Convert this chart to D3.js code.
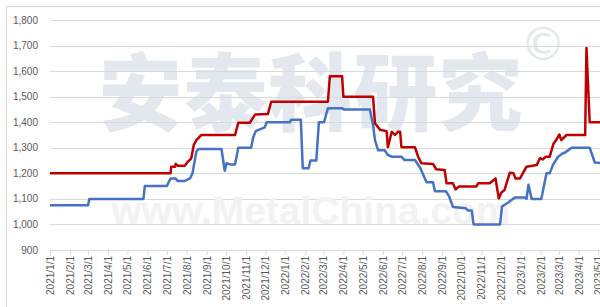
<!DOCTYPE html>
<html>
<head>
<meta charset="utf-8">
<script src="https://cdnjs.cloudflare.com/ajax/libs/d3/7.8.5/d3.min.js"></script>
<style>
  body { margin: 0; background: #fff; }
  svg { display: block; font-family: "Liberation Sans", Arial, sans-serif; }
</style>
</head>
<body>
<div id="chart"></div>
<script>
// red series: [date, price]
var redSeries = [
  ["2021/1/1",1200],["2021/7/7",1200],["2021/7/8",1226],["2021/7/14",1226],["2021/7/15",1237],
  ["2021/7/18",1230],["2021/7/29",1230],["2021/8/3",1246],["2021/8/8",1258],["2021/8/12",1311],
  ["2021/8/16",1330],["2021/8/21",1343],["2021/8/24",1350],["2021/10/15",1350],["2021/10/20",1398],
  ["2021/11/7",1398],["2021/11/10",1410],["2021/11/15",1430],["2021/12/5",1432],["2021/12/10",1480],
  ["2022/3/8",1480],["2022/3/11",1580],["2022/3/30",1580],["2022/4/1",1500],["2022/5/17",1500],
  ["2022/5/20",1396],["2022/5/28",1370],["2022/6/7",1365],["2022/6/9",1302],["2022/6/15",1363],
  ["2022/6/20",1350],["2022/6/25",1363],["2022/6/28",1363],["2022/6/30",1302],["2022/7/21",1302],
  ["2022/7/26",1265],["2022/7/31",1239],["2022/8/18",1237],["2022/8/23",1216],["2022/9/5",1213],
  ["2022/9/8",1161],["2022/9/18",1161],["2022/9/22",1137],["2022/9/27",1148],["2022/10/24",1148],
  ["2022/10/27",1161],["2022/11/14",1161],["2022/11/23",1180],["2022/11/28",1102],["2022/12/2",1125],
  ["2022/12/7",1135],["2022/12/15",1202],["2022/12/21",1200],["2022/12/24",1180],["2022/12/31",1180],
  ["2023/1/10",1226],["2023/1/26",1233],["2023/1/31",1260],["2023/2/4",1254],["2023/2/9",1265],
  ["2023/2/15",1265],["2023/2/21",1317],["2023/2/25",1330],["2023/3/2",1352],["2023/3/5",1330],
  ["2023/3/13",1350],["2023/4/11",1350],["2023/4/13",1690],["2023/4/18",1400],["2023/5/4",1400]
];

// blue series: [date, price]
var blueSeries = [
  ["2021/1/1",1075],["2021/3/1",1075],["2021/3/3",1100],["2021/5/26",1100],["2021/5/28",1150],
  ["2021/7/1",1150],["2021/7/7",1180],["2021/7/15",1180],["2021/7/18",1170],["2021/7/29",1170],
  ["2021/8/6",1180],["2021/8/10",1200],["2021/8/16",1285],["2021/8/19",1295],["2021/9/24",1295],
  ["2021/9/29",1210],["2021/10/2",1240],["2021/10/7",1235],["2021/10/15",1235],["2021/10/20",1300],
  ["2021/11/9",1300],["2021/11/12",1340],["2021/11/16",1365],["2021/11/30",1380],["2021/12/3",1400],
  ["2022/1/8",1400],["2022/1/10",1410],["2022/1/25",1410],["2022/1/28",1220],["2022/2/6",1220],
  ["2022/2/9",1250],["2022/2/18",1250],["2022/2/22",1400],["2022/3/2",1400],["2022/3/8",1455],
  ["2022/3/30",1455],["2022/4/2",1450],["2022/5/12",1450],["2022/5/17",1390],["2022/5/20",1330],
  ["2022/5/25",1290],["2022/6/4",1290],["2022/6/9",1272],["2022/6/15",1265],["2022/6/30",1265],
  ["2022/7/5",1252],["2022/7/21",1252],["2022/7/29",1222],["2022/8/8",1165],["2022/8/18",1165],
  ["2022/8/21",1130],["2022/9/7",1130],["2022/9/12",1110],["2022/9/18",1068],["2022/10/8",1063],
  ["2022/10/11",1055],["2022/10/17",1055],["2022/10/20",1000],["2022/11/30",1000],["2022/12/3",1070],
  ["2022/12/11",1083],["2022/12/23",1105],["2023/1/8",1105],["2023/1/10",1100],["2023/1/13",1155],
  ["2023/1/18",1100],["2023/2/2",1100],["2023/2/10",1200],["2023/2/15",1200],["2023/2/20",1233],
  ["2023/2/28",1265],["2023/3/8",1280],["2023/3/10",1280],["2023/3/21",1300],["2023/4/18",1300],
  ["2023/4/26",1242],["2023/5/4",1240]
];

var yTicks = [900, 1000, 1100, 1200, 1300, 1400, 1500, 1600, 1700, 1800];
var dateStart = "2021/1/1", dateEnd = "2023/5/4";

var width = 600, height = 307;
var margin = {top: 20, right: 0, bottom: 57, left: 50};

var parse = d3.timeParse("%Y/%m/%d");
var fmt = d3.timeFormat("%Y/%-m/%-d");

var svg = d3.select("#chart").append("svg")
    .attr("width", width).attr("height", height);

// outer chart frame (only left/top visible in the crop)
svg.append("rect")
    .attr("x", 6.5).attr("y", 6.5)
    .attr("width", 700).attr("height", 400)
    .attr("fill", "none").attr("stroke", "#d9d9d9");

var x = d3.scaleTime()
    .domain([parse(dateStart), parse(dateEnd)])
    .range([margin.left, width - margin.right]);

var y = d3.scaleLinear()
    .domain([900, 1800])
    .range([height - margin.bottom, margin.top]);

// watermark
svg.append("text")
    .attr("x", 311).attr("y", 124)
    .attr("text-anchor", "middle")
    .attr("font-family", "'Noto Sans CJK SC'")
    .attr("font-weight", 900)
    .attr("font-size", 84)
    .attr("letter-spacing", 1)
    .attr("fill", "#e3e8ee")
    .text("安泰科研究");
svg.append("text")
    .attr("x", 543).attr("y", 60)
    .attr("text-anchor", "middle")
    .attr("font-family", "'DejaVu Sans'")
    .attr("font-size", 46)
    .attr("fill", "#e3e8ee")
    .text("©");

// gridlines
svg.append("g").selectAll("line")
  .data(yTicks.filter(function(d){ return d > 900; }))
  .enter().append("line")
    .attr("x1", margin.left).attr("x2", width - margin.right)
    .attr("y1", function(d){ return Math.round(y(d)) + 0.5; })
    .attr("y2", function(d){ return Math.round(y(d)) + 0.5; })
    .attr("stroke", "#d9d9d9").attr("stroke-width", 1);

svg.append("text")
    .attr("x", 311).attr("y", 224)
    .attr("text-anchor", "middle")
    .attr("font-family", "'Liberation Sans', Arial")
    .attr("font-weight", "bold")
    .attr("font-size", 39)
    .attr("fill", "#f2f2f2")
    .text("www.MetalChina.com");

// y axis labels
svg.append("g").selectAll("text")
  .data(yTicks)
  .enter().append("text")
    .attr("x", 38)
    .attr("y", function(d){ return y(d); })
    .attr("dy", "0.35em")
    .attr("text-anchor", "end")
    .attr("font-size", 10)
    .attr("fill", "#595959")
    .text(d3.format(","));

// x axis
var xAxis = svg.append("g")
    .attr("transform", "translate(0," + (height - margin.bottom) + ")")
    .call(d3.axisBottom(x).ticks(d3.timeMonth.every(1)).tickFormat(fmt).tickSizeInner(5).tickSizeOuter(0));
xAxis.select(".domain").attr("stroke", "#d9d9d9");
xAxis.selectAll(".tick line").attr("stroke", "#d9d9d9");
xAxis.selectAll(".tick text")
    .attr("transform", "rotate(-90)")
    .attr("x", -6).attr("y", 0)
    .attr("dy", "0.35em")
    .attr("text-anchor", "end")
    .attr("font-size", 10)
    .attr("font-family", "'Liberation Sans', Arial")
    .attr("fill", "#595959");

var line = d3.line()
    .x(function(d){ return x(parse(d[0])); })
    .y(function(d){ return y(d[1]); });

svg.append("path")
    .datum(blueSeries)
    .attr("d", line)
    .attr("fill", "none")
    .attr("stroke", "#4472c4")
    .attr("stroke-width", 2.5)
    .attr("stroke-linejoin", "round");

svg.append("path")
    .datum(redSeries)
    .attr("d", line)
    .attr("fill", "none")
    .attr("stroke", "#c00000")
    .attr("stroke-width", 2.5)
    .attr("stroke-linejoin", "round");
</script>
</body>
</html>
